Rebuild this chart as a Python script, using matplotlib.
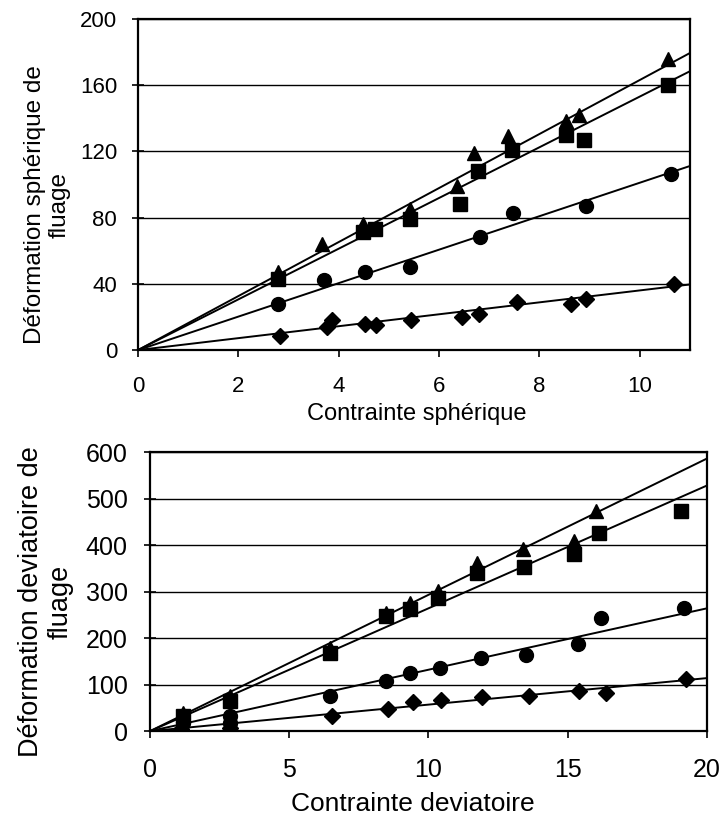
import numpy as np
import matplotlib.pyplot as plt

plt.rcParams['font.family'] = ['Liberation Sans', 'DejaVu Sans']

# top chart: contrainte spherique
sph_tri_x = [2.79, 3.67, 4.48, 5.42, 6.35, 6.69, 7.37, 8.54, 8.80, 10.56]
sph_tri_y = [47, 64, 76, 85, 99, 119, 129, 138, 142, 176]
sph_sq_x = [2.79, 4.48, 4.72, 5.42, 6.41, 6.78, 7.45, 8.54, 8.89, 10.56]
sph_sq_y = [43, 71, 73, 79, 88, 108, 121, 130, 127, 160]
sph_circ_x = [2.79, 3.70, 4.52, 5.42, 6.81, 7.47, 8.92, 10.62]
sph_circ_y = [28, 42, 47, 50, 68, 83, 87, 106]
sph_dia_x = [2.83, 3.76, 3.86, 4.52, 4.74, 5.45, 6.45, 6.79, 7.55, 8.64, 8.92, 10.68]
sph_dia_y = [8.5, 14, 18, 16, 15, 18, 20, 22, 29, 28, 31, 40]
sph_slopes = [16.3, 15.3, 10.1, 3.6]

# bottom chart: contrainte deviatoire
dev_tri_x = [1.2, 2.87, 6.45, 8.47, 9.33, 10.34, 11.75, 13.38, 15.24, 16.0]
dev_tri_y = [39, 75, 178, 255, 275, 301, 362, 391, 409, 473]
dev_sq_x = [1.2, 2.87, 6.45, 8.47, 9.33, 10.34, 11.75, 13.45, 15.24, 16.12, 19.08]
dev_sq_y = [32, 64, 168, 247, 262, 286, 340, 353, 381, 426, 473]
dev_circ_x = [1.2, 2.87, 2.87, 6.48, 8.47, 9.33, 10.4, 11.9, 13.5, 15.36, 16.2, 19.19]
dev_circ_y = [17, 32, 17, 75, 107, 125, 135, 157, 163, 187, 243, 265]
dev_dia_x = [1.1, 2.88, 6.55, 8.54, 9.43, 10.45, 11.93, 13.6, 15.4, 16.37, 19.26]
dev_dia_y = [4, 7, 32, 47, 62, 66, 73, 75, 86, 82, 112]
dev_slopes = [29.3, 26.4, 13.2, 5.7]

fig = plt.figure(figsize=(7.28, 8.16), dpi=100)
ax1 = fig.add_axes([0.1896, 0.571, 0.758, 0.406])
ax2 = fig.add_axes([0.206, 0.104, 0.765, 0.342])

markers = ['^', 's', 'o', 'D']
sizes = [10.5, 9.5, 10, 8.5]


def draw(ax, series, slopes, xmax, ymax, yticks, xticks, fs, ypad):
    for t in yticks[1:]:
        ax.axhline(t, color='black', lw=1.0, zorder=1)
    xs = np.array([0, xmax])
    for k in slopes:
        ax.plot(xs, k * xs, color='black', lw=1.4, zorder=2)
    for (x, y), m, s in zip(series, markers, sizes):
        ax.plot(x, y, linestyle='none', marker=m, ms=s, color='black', zorder=3)
    ax.set_xlim(0, xmax)
    ax.set_ylim(0, ymax)
    ax.set_xticks(xticks)
    ax.set_yticks(yticks)
    ax.tick_params(axis='y', direction='inout', length=8, width=1.2, labelsize=fs, pad=ypad)
    ax.tick_params(axis='x', direction='out', length=5, width=1.2, labelsize=fs, pad=14)
    for sp in ax.spines.values():
        sp.set_linewidth(1.6)


draw(ax1,
     [(sph_tri_x, sph_tri_y), (sph_sq_x, sph_sq_y),
      (sph_circ_x, sph_circ_y), (sph_dia_x, sph_dia_y)],
     sph_slopes, 11, 200, [0, 40, 80, 120, 160, 200], [0, 2, 4, 6, 8, 10], 16, 11)

draw(ax2,
     [(dev_tri_x, dev_tri_y), (dev_sq_x, dev_sq_y),
      (dev_circ_x, dev_circ_y), (dev_dia_x, dev_dia_y)],
     dev_slopes, 20, 600, [0, 100, 200, 300, 400, 500, 600], [0, 5, 10, 15, 20], 18, 12)

fig.text(0.573, 0.485, 'Contrainte sphérique', fontsize=17, ha='center', va='baseline')
fig.text(0.065, 0.749, 'Déformation sphérique de\nfluage', fontsize=17.5,
         rotation=90, ha='center', va='center', multialignment='center', linespacing=1.2)
fig.text(0.567, 0.006, 'Contrainte deviatoire', fontsize=19, ha='center', va='baseline')
fig.text(0.063, 0.263, 'Déformation deviatoire de\nfluage', fontsize=19.5,
         rotation=90, ha='center', va='center', multialignment='center', linespacing=1.15)

fig.savefig('out.png', dpi=100)
